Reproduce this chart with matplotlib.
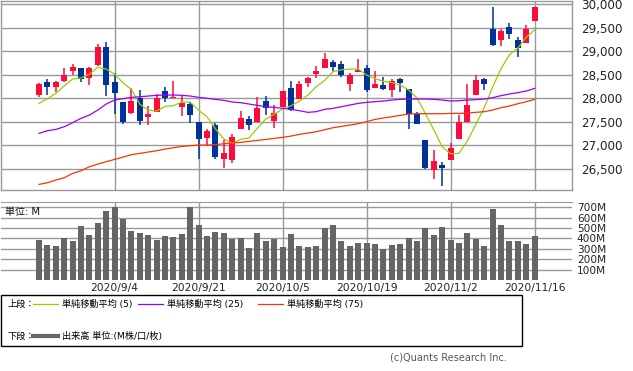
import matplotlib
matplotlib.use('Agg')
import matplotlib.pyplot as plt
from matplotlib.patches import Rectangle
from matplotlib.lines import Line2D

plt.rcParams['font.family'] = ['DejaVu Sans', 'Noto Sans CJK JP']

# tick labels of the date axis (placed every 10 sessions)
date_labels = ['2020/9/4', '2020/9/21', '2020/10/5', '2020/10/19', '2020/11/2', '2020/11/16']
date_idx = [9, 19, 29, 39, 49, 59]

# daily candles (60 sessions)
opens = [28069, 28346, 28246, 28367, 28580, 28644, 28438, 28708, 29091, 28346,
         27920, 27693, 27998, 27607, 27714, 28161, 28012, 27820, 27877, 27494,
         27160, 27423, 26706, 26684, 27352, 27558, 27501, 27941, 27522, 27820,
         28218, 27976, 28332, 28523, 28651, 28772, 28729, 28310, 28566, 28644,
         28225, 28282, 28182, 28410, 28190, 27671, 27110, 26478, 26578, 26691,
         27139, 27501, 28076, 28410, 29475, 29247, 29517, 29240, 29184, 29652]
highs = [28331, 28410, 28367, 28644, 28729, 28644, 28665, 29162, 29198, 28545,
         27920, 28211, 28175, 27835, 28090, 28239, 28367, 28069, 27927, 27494,
         27345, 27465, 27110, 27231, 27728, 27622, 28026, 28047, 27856, 28161,
         28367, 28367, 28452, 28687, 28963, 28814, 28793, 28545, 28836, 28708,
         28580, 28452, 28417, 28431, 28190, 27707, 27110, 26897, 26642, 27046,
         27643, 28303, 28488, 28431, 29950, 29475, 29602, 29311, 29560, 29943]
lows = [28033, 28069, 28133, 28346, 28488, 28346, 28289, 28687, 28055, 27657,
        27458, 27671, 27437, 27437, 27714, 27927, 28012, 27629, 27480, 26713,
        26990, 26713, 26521, 26628, 27352, 27330, 27501, 27643, 27373, 27820,
        27728, 27976, 28246, 28438, 28651, 28580, 28459, 28161, 28566, 28126,
        28225, 28182, 28033, 28140, 27352, 27458, 26500, 26287, 26138, 26691,
        27139, 27501, 28076, 28182, 29120, 29120, 29269, 28885, 29184, 29652]
closes = [28303, 28246, 28346, 28488, 28665, 28417, 28644, 29091, 28289, 28119,
          27501, 27941, 27522, 27664, 27998, 27998, 28033, 27906, 27650, 27139,
          27302, 26755, 26826, 27174, 27579, 27437, 27799, 27799, 27685, 28161,
          27749, 28303, 28431, 28587, 28836, 28672, 28502, 28502, 28608, 28182,
          28310, 28204, 28367, 28332, 27671, 27458, 26521, 26663, 26514, 26940,
          27501, 27856, 28388, 28310, 29141, 29432, 29375, 29077, 29475, 29943]

ma5 = [27891, 27991, 28104, 28261, 28410, 28432, 28512, 28661, 28621, 28512,
       28329, 28188, 27874, 27749, 27725, 27825, 27843, 27920, 27917, 27745,
       27606, 27350, 27134, 27039, 27127, 27154, 27363, 27558, 27660, 27776,
       27839, 27939, 28066, 28246, 28381, 28566, 28606, 28620, 28624, 28493,
       28421, 28361, 28334, 28279, 28177, 28006, 27670, 27329, 26965, 26819,
       26828, 27095, 27440, 27799, 28239, 28625, 28929, 29067, 29300, 29460]
ma25 = [27252, 27309, 27337, 27394, 27480, 27572, 27643, 27749, 27877, 27962,
        27991, 28019, 28033, 28047, 28062, 28069, 28069, 28062, 28047, 28019,
        28000, 27977, 27955, 27920, 27906, 27877, 27849, 27820, 27806, 27785,
        27764, 27735, 27700, 27714, 27764, 27785, 27820, 27856, 27891, 27913,
        27927, 27941, 27962, 27977, 27984, 27984, 27984, 27977, 27962, 27941,
        27948, 27962, 27969, 27984, 28012, 28055, 28090, 28119, 28154, 28210]
ma75 = [26166, 26202, 26258, 26308, 26400, 26457, 26542, 26599, 26649, 26698,
        26748, 26798, 26827, 26855, 26883, 26919, 26947, 26975, 26990, 27004,
        27004, 27011, 27032, 27046, 27061, 27082, 27103, 27124, 27146, 27167,
        27196, 27231, 27259, 27288, 27330, 27373, 27401, 27430, 27458, 27501,
        27550, 27580, 27607, 27636, 27664, 27671, 27671, 27671, 27671, 27678,
        27678, 27685, 27700, 27714, 27749, 27799, 27835, 27884, 27927, 27976]

# volume in millions
volume = [383, 334, 325, 403, 373, 519, 432, 549, 666, 701,
          588, 471, 451, 432, 383, 422, 412, 441, 705, 529,
          422, 461, 451, 396, 403, 305, 451, 373, 396, 315,
          441, 325, 315, 325, 497, 529, 373, 325, 354, 354,
          344, 295, 334, 344, 403, 373, 497, 432, 510, 383,
          354, 451, 393, 325, 685, 529, 373, 373, 344, 422]

RED = '#ff0a3c'
BLUE = '#003399'
GRID = '#999999'
W, H = 633, 371


def fx(px):
    return px / W


def fy(py):
    return 1 - py / H


fig = plt.figure(figsize=(6.33, 3.71), dpi=100)

# upper panel: candles + moving averages
ax = fig.add_axes([fx(0.7), fy(190), fx(572) - fx(0.7), fy(0.7) - fy(190)])
x = list(range(len(closes)))
for i in x:
    col = RED if closes[i] >= opens[i] else BLUE
    ax.vlines(i, lows[i], highs[i], color=col, lw=1.1, zorder=3)
    body = max(abs(closes[i] - opens[i]), 12)
    ax.bar(i, body, bottom=min(opens[i], closes[i]), width=0.72, color=col, zorder=3)
ax.plot(x, ma5, color='#99cc00', lw=0.9, zorder=4)
ax.plot(x, ma25, color='#9900ff', lw=0.9, zorder=4)
ax.plot(x, ma75, color='#ff3300', lw=0.9, zorder=4)

ax.set_xlim(-4.56, 63.45)
ax.set_ylim(26047, 30077)
ax.set_yticks(range(26500, 30001, 500))
ax.set_yticklabels([f'{v:,}' for v in range(26500, 30001, 500)])
ax.set_xticks(date_idx)
ax.set_xticklabels([])
ax.yaxis.tick_right()
ax.tick_params(length=0, labelsize=8.6, colors='#222222', pad=6.5)
ax.grid(True, color=GRID, lw=1.0, zorder=0)
for s in ax.spines.values():
    s.set_color(GRID)
    s.set_linewidth(1.0)

# lower panel: volume
ax2 = fig.add_axes([fx(0.7), fy(280), fx(572) - fx(0.7), fy(202) - fy(280)])
ax2.bar(x, volume, width=0.72, color='#666666', zorder=3)
ax2.set_xlim(-4.56, 63.45)
ax2.set_ylim(0, 751)
ax2.set_yticks(range(100, 701, 100))
ax2.set_yticklabels([f'{v}M' for v in range(100, 701, 100)])
ax2.set_xticks(date_idx)
ax2.set_xticklabels(date_labels)
ax2.yaxis.tick_right()
ax2.tick_params(axis='y', length=0, labelsize=7.6, colors='#222222', pad=3.5)
ax2.tick_params(axis='x', length=0, labelsize=7.7, colors='#222222', pad=2.5)
ax2.grid(True, color=GRID, lw=1.0, zorder=0)
for k, s in ax2.spines.items():
    s.set_color(GRID)
    s.set_visible(k == 'top')
ax2.text(0.008, 0.93, '単位: M', transform=ax2.transAxes, fontsize=7.2,
         va='top', ha='left', color='#111111', zorder=5)

# legend box
fig.add_artist(Rectangle((fx(0.5), fy(346)), fx(521.5), fy(295) - fy(346),
                         transform=fig.transFigure, fill=False, ec='black', lw=1.0))
y1, y2 = 304, 336
fig.text(fx(7), fy(y1), '上段：', fontsize=6.6, va='center', ha='left')
fig.text(fx(7), fy(y2), '下段：', fontsize=6.6, va='center', ha='left')
items = [(33, '#99cc00', '単純移動平均 (5)'), (138, '#9900ff', '単純移動平均 (25)'),
         (258, '#ff3300', '単純移動平均 (75)')]
for x0, c, lab in items:
    fig.add_artist(Line2D([fx(x0), fx(x0 + 25)], [fy(y1), fy(y1)], color=c, lw=0.9,
                          transform=fig.transFigure))
    fig.text(fx(x0 + 29), fy(y1), lab, fontsize=6.6, va='center', ha='left')
fig.add_artist(Line2D([fx(33), fx(58)], [fy(y2), fy(y2)], color='#666666', lw=3,
                      transform=fig.transFigure))
fig.text(fx(62), fy(y2), '出来高 単位:(M株/口/枚)', fontsize=6.6, va='center', ha='left')

fig.text(fx(507), fy(358), '(c)Quants Research Inc.', fontsize=7, color='#555555',
         va='center', ha='right')

fig.savefig('out.png', dpi=100)
